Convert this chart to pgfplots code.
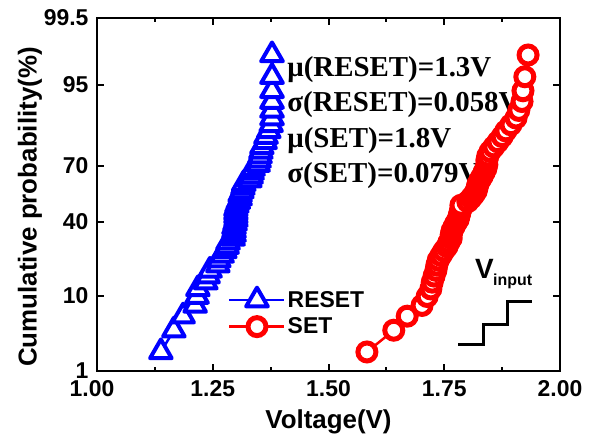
\documentclass[border=0pt]{standalone}
\usepackage{fontspec}
\setmainfont{Liberation Sans}
\newfontfamily\timesfont{Liberation Serif}
\usepackage{pgfplots}
\usepackage{pgfplotstable}
\pgfplotsset{compat=1.18}

% voltage, probit of cumulative probability
\pgfplotstableread{
v z
1.138 -2.062
1.166 -1.760
1.186 -1.565
1.212 -1.416
1.216 -1.292
1.218 -1.187
1.235 -1.093
1.240 -1.008
1.244 -0.929
1.261 -0.856
1.263 -0.786
1.270 -0.722
1.276 -0.659
1.281 -0.599
1.283 -0.541
1.294 -0.485
1.296 -0.431
1.296 -0.377
1.296 -0.325
1.298 -0.274
1.300 -0.223
1.300 -0.173
1.300 -0.123
1.300 -0.074
1.302 -0.025
1.305 0.025
1.309 0.074
1.309 0.123
1.313 0.173
1.315 0.223
1.317 0.274
1.330 0.325
1.333 0.377
1.335 0.431
1.337 0.485
1.348 0.541
1.350 0.599
1.352 0.659
1.354 0.722
1.356 0.786
1.363 0.856
1.365 0.929
1.371 1.008
1.376 1.093
1.378 1.187
1.378 1.292
1.378 1.416
1.378 1.565
1.378 1.760
1.378 2.062
}\resetdata

\pgfplotstableread{
v z
1.583 -2.062
1.641 -1.760
1.670 -1.565
1.702 -1.416
1.713 -1.292
1.721 -1.187
1.724 -1.093
1.728 -1.008
1.732 -0.929
1.734 -0.856
1.737 -0.786
1.743 -0.722
1.749 -0.659
1.756 -0.599
1.760 -0.541
1.765 -0.485
1.765 -0.431
1.767 -0.377
1.771 -0.325
1.775 -0.274
1.780 -0.223
1.782 -0.173
1.784 -0.123
1.786 -0.074
1.786 -0.025
1.801 0.025
1.808 0.074
1.814 0.123
1.819 0.173
1.821 0.223
1.823 0.274
1.827 0.325
1.832 0.377
1.836 0.431
1.840 0.485
1.842 0.541
1.842 0.599
1.844 0.659
1.849 0.722
1.857 0.786
1.866 0.856
1.875 0.929
1.883 1.008
1.894 1.093
1.905 1.187
1.911 1.292
1.918 1.416
1.920 1.565
1.924 1.760
1.931 2.062
}\setdata

\begin{document}
\begin{tikzpicture}
\begin{axis}[
    scale only axis,
    width=463bp, height=353bp,
    xmin=1, xmax=2,
    ymin=-2.3263, ymax=2.5758,
    axis line style={line width=2.5bp},
    xtick={1,1.25,1.5,1.75,2},
    xticklabels={\hspace*{-10bp}1.00,1.25,1.50,1.75,2.00},
    minor x tick num=1,
    ytick={-2.3263,-1.2816,-0.2533,0.5244,1.6449,2.5758},
    yticklabels={1,10,40,70,95,\raisebox{-6bp}{99.5}},
    tick align=inside,
    major tick length=7bp, minor tick length=4bp,
    tick style={line width=2bp, black},
    tick label style={font=\fontsize{23}{26}\selectfont\bfseries},
    xticklabel style={yshift=-6bp},
    yticklabel style={xshift=-5bp},
    xlabel={Voltage(V)},
    label style={font=\fontsize{26}{30}\selectfont\bfseries},
    xlabel style={at={(axis description cs:0.5,-0.1436)}, anchor=center},
    legend image code/.code={\draw[mark repeat=2,mark phase=2,#1] plot coordinates {(0bp,0bp) (27.5bp,0bp) (55bp,0bp)};},
    legend style={draw=none, fill=none, inner sep=0pt, row sep=5bp,
        at={(axis description cs:0.283,0.1657)}, anchor=west,
        font=\fontsize{23}{27}\selectfont\bfseries},
    legend cell align=left,
]
\addplot[blue, line width=2.5bp, mark=triangle*, mark size=12.5bp,
    mark options={line width=4bp, fill=white, line join=round}]
    table[x=v, y=z] {\resetdata};
\addlegendentry{RESET}
\addplot[red, line width=2.5bp, mark=*, mark size=9bp,
    mark options={line width=5bp, fill=white}]
    table[x=v, y=z] {\setdata};
\addlegendentry{SET}

% input staircase sketch
\addplot[black, line width=3bp, forget plot] coordinates {
    (1.7804,-1.965) (1.8344,-1.965) (1.8344,-1.687) (1.8862,-1.687)
    (1.8862,-1.364) (1.9389,-1.364)};

\begin{scope}[every node/.style={anchor=base west, inner sep=0pt,
    font=\timesfont\bfseries\fontsize{29}{32}\selectfont}]
\node at (axis description cs:0.411,0.833) {μ(RESET)=1.3V};
\node at (axis description cs:0.411,0.734) {σ(RESET)=0.058V};
\node at (axis description cs:0.411,0.632) {μ(SET)=1.8V};
\node at (axis description cs:0.411,0.533) {σ(SET)=0.079V};
\end{scope}
\node[anchor=base west, inner sep=0pt, font=\fontsize{28}{32}\selectfont\bfseries]
    at (axis description cs:0.8164,0.2626) {V};
\node[anchor=base west, inner sep=0pt, font=\fontsize{16}{19}\selectfont\bfseries]
    at (axis description cs:0.8553,0.2436) {input};
\end{axis}
% y axis title, placed outside the axis so it is not clipped
\node[rotate=90, anchor=center, inner sep=0pt, font=\fontsize{26}{30}\selectfont\bfseries]
    at (-67bp,164bp) {Cumulative probability(\%)};
\pgfresetboundingbox
\useasboundingbox (-97bp,-66bp) rectangle (499bp,371bp);
\end{tikzpicture}
\end{document}
